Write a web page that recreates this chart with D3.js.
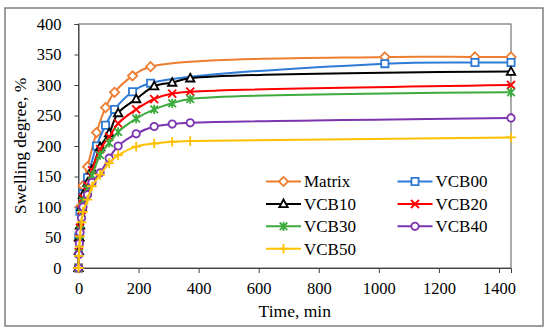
<!DOCTYPE html>
<html>
<head>
<meta charset="utf-8">
<script src="https://cdn.jsdelivr.net/npm/d3@7"></script>
<style>
  body { margin: 0; background: #fff; }
  text { font-family: "Liberation Serif", "DejaVu Serif", serif; fill: #000; }
</style>
</head>
<body>
<div id="chart"></div>
<script>
// --- data ---
const seriesNames = ["Matrix", "VCB00", "VCB10", "VCB20", "VCB30", "VCB40", "VCB50"];
const seriesColors = ["#ED7D31", "#2E7BD6", "#000000", "#FF0000", "#3DAA3D", "#7B35B0", "#FFC000"];
const seriesMarkers = ["diamond", "square", "triangle", "x", "star", "circle", "plus"];

// Matrix and VCB00 were sampled at the same times
const timeA = [0, 1, 5, 15, 30, 60, 90, 120, 180, 240, 1020, 1320, 1440];
// the VCB10 ... VCB50 samples
const timeB = [0, 1, 3, 5, 10, 15, 30, 45, 72, 102, 132, 192, 252, 312, 372, 1440];

const matrixVals = [0, 45, 100, 135, 166, 222, 263, 288, 315, 330, 346, 346, 346];
const vcb00Vals  = [0, 51, 93, 122, 148, 200, 234, 260, 289, 303, 335, 337, 337];
const vcb10Vals  = [0, 28, 50, 70, 100, 120, 140, 161, 198, 221, 254, 277, 298, 304, 311, 322];
const vcb20Vals  = [0, 26, 48, 66, 95, 115, 135, 160, 195, 215, 237, 260, 277, 286, 289, 300];
const vcb30Vals  = [0, 24, 45, 62, 90, 110, 130, 152, 185, 205, 223, 245, 260, 270, 277, 288];
const vcb40Vals  = [0, 22, 40, 58, 82, 100, 120, 140, 156, 180, 200, 220, 232, 236, 238, 246];
const vcb50Vals  = [0, 20, 35, 52, 75, 92, 112, 134, 153, 172, 185, 199, 204, 207, 208, 214];

const xTicks = [0, 200, 400, 600, 800, 1000, 1200, 1400];
const yTicks = [0, 50, 100, 150, 200, 250, 300, 350, 400];

const seriesData = [
    { times: timeA, vals: matrixVals },
    { times: timeA, vals: vcb00Vals },
    { times: timeB, vals: vcb10Vals },
    { times: timeB, vals: vcb20Vals },
    { times: timeB, vals: vcb30Vals },
    { times: timeB, vals: vcb40Vals },
    { times: timeB, vals: vcb50Vals }
];

// --- layout ---
const width = 550, height = 334;
const plot = { left: 78.5, top: 24, right: 511, bottom: 268 };

const svg = d3.select("#chart").append("svg")
    .attr("width", width)
    .attr("height", height);

const x = d3.scaleLinear().domain([0, 1440]).range([plot.left, plot.right]);
const y = d3.scaleLinear().domain([0, 400]).range([plot.bottom, plot.top]);

// outer frame
svg.append("rect")
    .attr("x", 5).attr("y", 8).attr("width", 538).attr("height", 318)
    .attr("fill", "#fff").attr("stroke", "#7f7f7f").attr("stroke-width", 1.5);

// plot frame
svg.append("rect")
    .attr("x", plot.left).attr("y", plot.top)
    .attr("width", plot.right - plot.left).attr("height", plot.bottom - plot.top)
    .attr("fill", "none").attr("stroke", "#595959").attr("stroke-width", 1);

// axes
const xAxis = svg.append("g")
    .attr("transform", `translate(0,${plot.bottom})`)
    .call(d3.axisBottom(x).tickValues(xTicks).tickFormat(d3.format("d")).tickSize(5).tickPadding(9));
const yAxis = svg.append("g")
    .attr("transform", `translate(${plot.left},0)`)
    .call(d3.axisLeft(y).tickValues(yTicks).tickFormat(d3.format("d")).tickSize(4).tickPadding(13));
[xAxis, yAxis].forEach(ax => {
    ax.select(".domain").attr("stroke", "#404040");
    ax.selectAll(".tick line").attr("stroke", "#404040");
    ax.selectAll(".tick text")
        .style("font-family", '"Liberation Serif", serif')
        .style("font-size", "16.5px").attr("fill", "#000");
});

// axis titles
svg.append("text")
    .attr("x", (plot.left + plot.right) / 2).attr("y", 317)
    .attr("text-anchor", "middle").style("font-size", "17.5px")
    .text("Time, min");
svg.append("text")
    .attr("transform", `translate(26,${(plot.top + plot.bottom) / 2}) rotate(-90)`)
    .attr("text-anchor", "middle").style("font-size", "17.5px")
    .text("Swelling degree, %");

// marker shapes
function markerPath(type) {
    switch (type) {
        case "diamond": return "M0,-4.6L4.6,0L0,4.6L-4.6,0Z";
        case "square": return "M-3.6,-3.6H3.6V3.6H-3.6Z";
        case "triangle": return "M0,-4.5L4.2,3.2H-4.2Z";
        case "circle": return d3.arc()({ innerRadius: 0, outerRadius: 3.7, startAngle: 0, endAngle: 2 * Math.PI });
        case "x": return "M-4,-4L4,4M-4,4L4,-4";
        case "star": return "M-3.8,-3.8L3.8,3.8M-3.8,3.8L3.8,-3.8M0,-4.6V4.6";
        case "plus": return "M-4.8,0H4.8M0,-4.8V4.8";
    }
}
const hollow = ["diamond", "square", "triangle", "circle"];

const line = d3.line()
    .x(d => x(d.t))
    .y(d => y(d.v))
    .curve(d3.curveCatmullRom.alpha(0.5));

seriesData.forEach((s, i) => {
    const pts = s.times.map((t, k) => ({ t, v: s.vals[k] }));
    const g = svg.append("g").attr("class", "series");
    g.append("path")
        .attr("d", line(pts))
        .attr("fill", "none")
        .attr("stroke", seriesColors[i])
        .attr("stroke-width", 2);
    g.selectAll(".mk").data(pts).join("path")
        .attr("class", "mk")
        .attr("transform", d => `translate(${x(d.t)},${y(d.v)})`)
        .attr("d", markerPath(seriesMarkers[i]))
        .attr("fill", hollow.includes(seriesMarkers[i]) ? "#fff" : "none")
        .attr("stroke", seriesColors[i])
        .attr("stroke-width", 1.8);
});

// legend
const legendCols = [266, 397.5];
const legendRows = [181.5, 204, 226.3, 248.7];
const legend = svg.append("g");
seriesNames.forEach((name, i) => {
    const lx = legendCols[i % 2], ly = legendRows[Math.floor(i / 2)];
    const row = legend.append("g").attr("transform", `translate(${lx},${ly})`);
    row.append("line").attr("x1", 0).attr("x2", 35).attr("y1", 0).attr("y2", 0)
        .attr("stroke", seriesColors[i]).attr("stroke-width", 2);
    row.append("path").attr("transform", "translate(17.5,0)")
        .attr("d", markerPath(seriesMarkers[i]))
        .attr("fill", hollow.includes(seriesMarkers[i]) ? "#fff" : "none")
        .attr("stroke", seriesColors[i]).attr("stroke-width", 1.8);
    row.append("text").attr("x", 38).attr("y", 5.8)
        .style("font-size", "17px").text(name);
});
</script>
</body>
</html>
